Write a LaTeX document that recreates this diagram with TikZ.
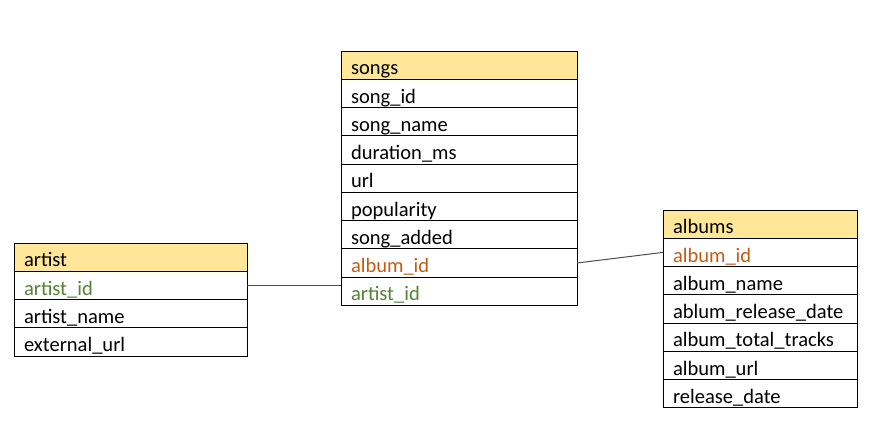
\documentclass[tikz,border=0pt]{standalone}
\usepackage{fontspec}
\setmainfont{Carlito}
\usetikzlibrary{positioning}
\definecolor{headfill}{HTML}{FFE699}
\definecolor{fkorange}{HTML}{C55A11}
\definecolor{fkgreen}{HTML}{548235}

\begin{document}
\begin{tikzpicture}[x=0.75pt,y=-0.75pt,
        field/.style={draw,line width=0.75pt,rectangle,inner xsep=7.5pt,inner ysep=0pt,
            outer sep=0pt,text height=17.8pt,text depth=3.4pt,text width=#1,align=left,
            font=\fontsize{15.4}{18}\selectfont},
        fieldhead/.style={field=#1,fill=headfill},
        link/.style={line width=0.75pt,black!70}]
    \useasboundingbox (0,0) rectangle (873,432);
    % songs
    \node [fieldhead=162pt,anchor=north west] (songs) at (341,51) {songs};
    \node [field=162pt,below=0pt of songs] (songid) {song\_id};
    \node [field=162pt,below=0pt of songid] (songname) {song\_name};
    \node [field=162pt,below=0pt of songname] (duration) {duration\_ms};
    \node [field=162pt,below=0pt of duration] (url) {url};
    \node [field=162pt,below=0pt of url] (popularity) {popularity};
    \node [field=162pt,below=0pt of popularity] (songadded) {song\_added};
    \node [field=162pt,below=0pt of songadded,text=fkorange] (salbumid) {album\_id};
    \node [field=162pt,below=0pt of salbumid,text=fkgreen] (sartistid) {artist\_id};
    % artist
    \node [fieldhead=159.75pt,anchor=north west] (artist) at (14,243) {artist};
    \node [field=159.75pt,below=0pt of artist,text=fkgreen] (artistid) {artist\_id};
    \node [field=159.75pt,below=0pt of artistid] (artistname) {artist\_name};
    \node [field=159.75pt,below=0pt of artistname] (externalurl) {external\_url};
    % albums
    \node [fieldhead=130.5pt,anchor=north west] (albums) at (663,210) {albums};
    \node [field=130.5pt,below=0pt of albums,text=fkorange] (albumid) {album\_id};
    \node [field=130.5pt,below=0pt of albumid] (albumname) {album\_name};
    \node [field=130.5pt,below=0pt of albumname] (releasedate) {ablum\_release\_date};
    \node [field=130.5pt,below=0pt of releasedate] (totaltracks) {album\_total\_tracks};
    \node [field=130.5pt,below=0pt of totaltracks] (albumurl) {album\_url};
    \node [field=130.5pt,below=0pt of albumurl] (release) {release\_date};
    % links
    \draw [link] (artistid.east) -- (artistid.east -| sartistid.west);
    \draw [link] (salbumid.east) -- (albumid.west);
\end{tikzpicture}
\end{document}
